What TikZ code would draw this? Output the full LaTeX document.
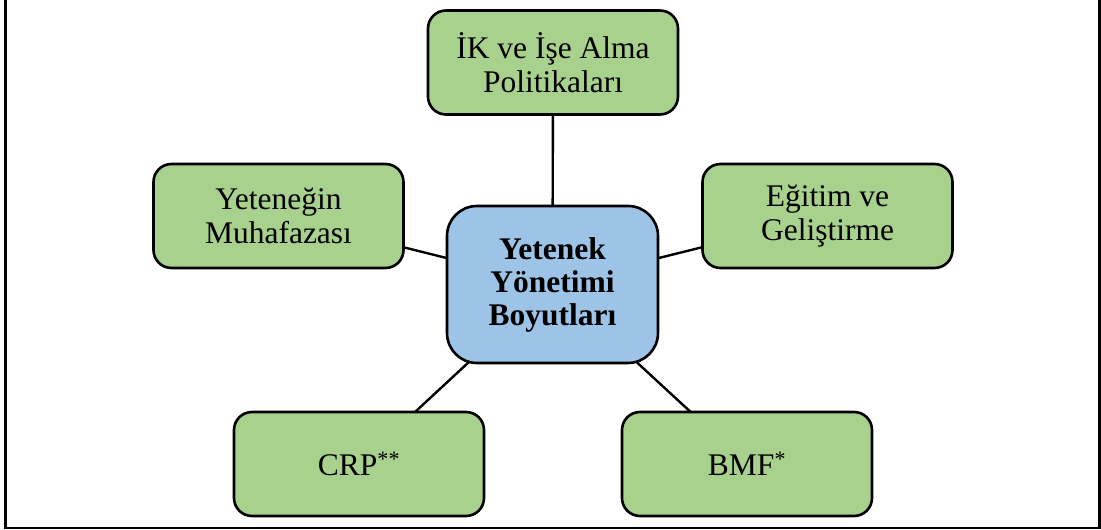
\documentclass[tikz,border=0pt]{standalone}
\usepackage{fontspec}
\setmainfont{Liberation Serif}
\usetikzlibrary{backgrounds}
\definecolor{boxgreen}{HTML}{A9D18E}
\definecolor{boxblue}{HTML}{9DC3E6}
\begin{document}
\begin{tikzpicture}[x=1pt,y=1pt,
  leaf/.style={draw=black, line width=2.6pt, fill=boxgreen, rounded corners=18pt,
    minimum width=250pt, minimum height=104pt, inner sep=0pt, align=center,
    font=\fontsize{31.5}{34}\selectfont},
  hub/.style={draw=black, line width=2.6pt, fill=boxblue, rounded corners=30pt,
    minimum width=211pt, minimum height=157pt, inner sep=0pt, align=center,
    font=\fontsize{31.5}{33}\selectfont\bfseries},
  link/.style={draw=black, line width=2.4pt}]
\useasboundingbox (0,0) rectangle (1101,530);
% outer frame (open at the top)
\draw[line width=2.2pt] (5.5,532) -- (5.5,1.7) -- (1099.5,1.7) -- (1099.5,532);

% central node and its five dimensions
\node[hub]  (hub)   at (552.5,245.5) {Yetenek\\Yönetimi\\Boyutları};
\node[leaf] (ik)    at (553,467.5)   {İK ve İşe Alma\\Politikaları};
\node[leaf] (muh)   at (278.5,314)   {Yeteneğin\\Muhafazası};
\node[leaf] (egt)   at (827.5,314)   {Eğitim ve\\Geliştirme};
\node[leaf] (crp)   at (359,66)      {CRP\textsuperscript{**}};
\node[leaf] (bmf)   at (747,66)      {BMF\textsuperscript{*}};

% spokes, drawn behind the filled boxes
\begin{pgfonlayer}{background}
  \foreach \n in {ik,muh,egt,crp,bmf}
    \draw[link] (hub.center) -- (\n.center);
\end{pgfonlayer}
\end{tikzpicture}
\end{document}
